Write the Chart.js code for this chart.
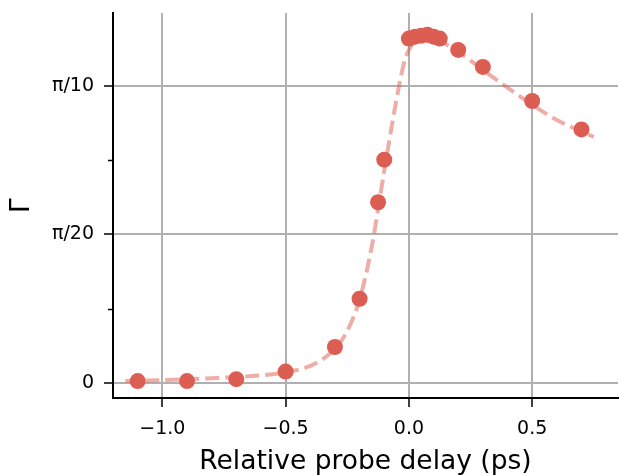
<!DOCTYPE html>
<html>
<head>
<meta charset="utf-8">
<script src="https://cdn.jsdelivr.net/npm/chart.js@4/dist/chart.umd.min.js"></script>
<style>
    html, body { margin: 0; padding: 0; background: #fff; }
    #wrap { width: 619px; height: 475px; }
</style>
</head>
<body>
<div id="wrap"><canvas id="chart" width="619" height="475"></canvas></div>
<script>
    // Measured points (delay in ps, Gamma in rad)
    const delayPs = [-1.1, -0.9, -0.7, -0.5, -0.3, -0.2, -0.125, -0.1, 0, 0.025, 0.05, 0.075, 0.1, 0.125, 0.2, 0.3, 0.5, 0.7];
    const gammaValues = [0.002, 0.002, 0.004, 0.012, 0.038, 0.089, 0.191, 0.236, 0.364, 0.366, 0.367, 0.368, 0.366, 0.364, 0.352, 0.334, 0.298, 0.268];

    // Fit curve
    const fitDelay = [-1.15, -1.0, -0.8, -0.6, -0.5, -0.4, -0.35, -0.3, -0.25, -0.2, -0.15, -0.1, -0.05, -0.02, 0, 0.05, 0.1, 0.15, 0.2, 0.3, 0.4, 0.5, 0.6, 0.75];
    const fitGamma = [0.002, 0.003, 0.005, 0.008, 0.011, 0.018, 0.025, 0.036, 0.055, 0.088, 0.145, 0.224, 0.300, 0.338, 0.352, 0.365, 0.364, 0.358, 0.350, 0.331, 0.312, 0.294, 0.278, 0.260];

    // Tick positions
    const xTicks = [-1.0, -0.5, 0.0, 0.5];
    const yTicks = [0, Math.PI / 40, Math.PI / 20, 3 * Math.PI / 40, Math.PI / 10];
    const yTickLabels = ['0', '', 'π/20', '', 'π/10'];

    const pointColor = '#dc5d52';
    const fitColor = 'rgba(220, 93, 82, 0.5)';

    function zip(xs, ys) {
        return xs.map(function(x, i) { return { x: x, y: ys[i] }; });
    }

    function isMinor(i) {
        return yTickLabels[i] === '';
    }

    // No extra label overflow padding, the plot box is placed by hand
    function noPadding(axis) {
        axis.paddingTop = 0;
        axis.paddingBottom = 0;
        axis.paddingLeft = 0;
        axis.paddingRight = 0;
    }

    // Draw shorter tick marks for the unlabeled minor y ticks
    const minorTicks = {
        id: 'minorTicks',
        afterDraw: function(chart) {
            const ctx = chart.ctx;
            const y = chart.scales.y;
            ctx.save();
            ctx.strokeStyle = '#000';
            ctx.lineWidth = 1.5;
            yTicks.forEach(function(v, i) {
                if (!isMinor(i)) return;
                const py = Math.round(y.getPixelForValue(v)) + 0.5;
                ctx.beginPath();
                ctx.moveTo(y.right - 5, py);
                ctx.lineTo(y.right, py);
                ctx.stroke();
            });
            ctx.restore();
        }
    };

    new Chart(document.getElementById('chart'), {
        type: 'scatter',
        data: {
            datasets: [{
                label: 'data',
                data: zip(delayPs, gammaValues),
                backgroundColor: pointColor,
                borderColor: pointColor,
                pointRadius: 8,
                pointBorderWidth: 0
            }, {
                label: 'fit',
                data: zip(fitDelay, fitGamma),
                showLine: true,
                borderColor: fitColor,
                borderWidth: 4,
                borderDash: [14, 6],
                pointRadius: 0,
                cubicInterpolationMode: 'monotone'
            }]
        },
        plugins: [minorTicks],
        options: {
            responsive: false,
            animation: false,
            layout: { autoPadding: false, padding: { top: 13, right: 1, left: 0, bottom: 0 } },
            plugins: {
                legend: { display: false },
                tooltip: { enabled: false }
            },
            scales: {
                x: {
                    type: 'linear',
                    min: -1.2,
                    max: 0.848,
                    afterBuildTicks: function(axis) {
                        axis.ticks = xTicks.map(function(v) { return { value: v }; });
                    },
                    afterFit: function(axis) { axis.height = 77; noPadding(axis); },
                    border: { color: '#000', width: 2 },
                    grid: { color: '#b0b0b0', lineWidth: 2, tickLength: 9, tickColor: '#000', tickWidth: 1.5 },
                    ticks: {
                        color: '#000',
                        padding: 11,
                        font: { family: 'DejaVu Sans', size: 19 },
                        callback: function(v) { return v.toFixed(1).replace('-', '\u2212'); }
                    },
                    title: {
                        display: true,
                        text: 'Relative probe delay (ps)',
                        color: '#000',
                        font: { family: 'DejaVu Sans', size: 26.5 },
                        padding: { top: 0, bottom: -3 }
                    }
                },
                y: {
                    type: 'linear',
                    min: -0.0159,
                    max: 0.391,
                    afterBuildTicks: function(axis) {
                        axis.ticks = yTicks.map(function(v) { return { value: v }; });
                    },
                    afterFit: function(axis) { axis.width = 113; noPadding(axis); },
                    border: { color: '#000', width: 2 },
                    grid: {
                        lineWidth: 2,
                        tickLength: 9,
                        tickWidth: 1.5,
                        color: function(c) { return isMinor(c.index) ? 'rgba(0,0,0,0)' : '#b0b0b0'; },
                        tickColor: function(c) { return isMinor(c.index) ? 'rgba(0,0,0,0)' : '#000'; }
                    },
                    ticks: {
                        color: '#000',
                        padding: 10,
                        font: { family: 'DejaVu Sans', size: 19 },
                        callback: function(v, i) { return yTickLabels[i]; }
                    },
                    title: {
                        display: true,
                        text: 'Γ',
                        color: '#000',
                        font: { family: 'DejaVu Sans', size: 26.5 },
                        padding: { top: 6, bottom: 0 }
                    }
                }
            }
        }
    });
</script>
</body>
</html>
